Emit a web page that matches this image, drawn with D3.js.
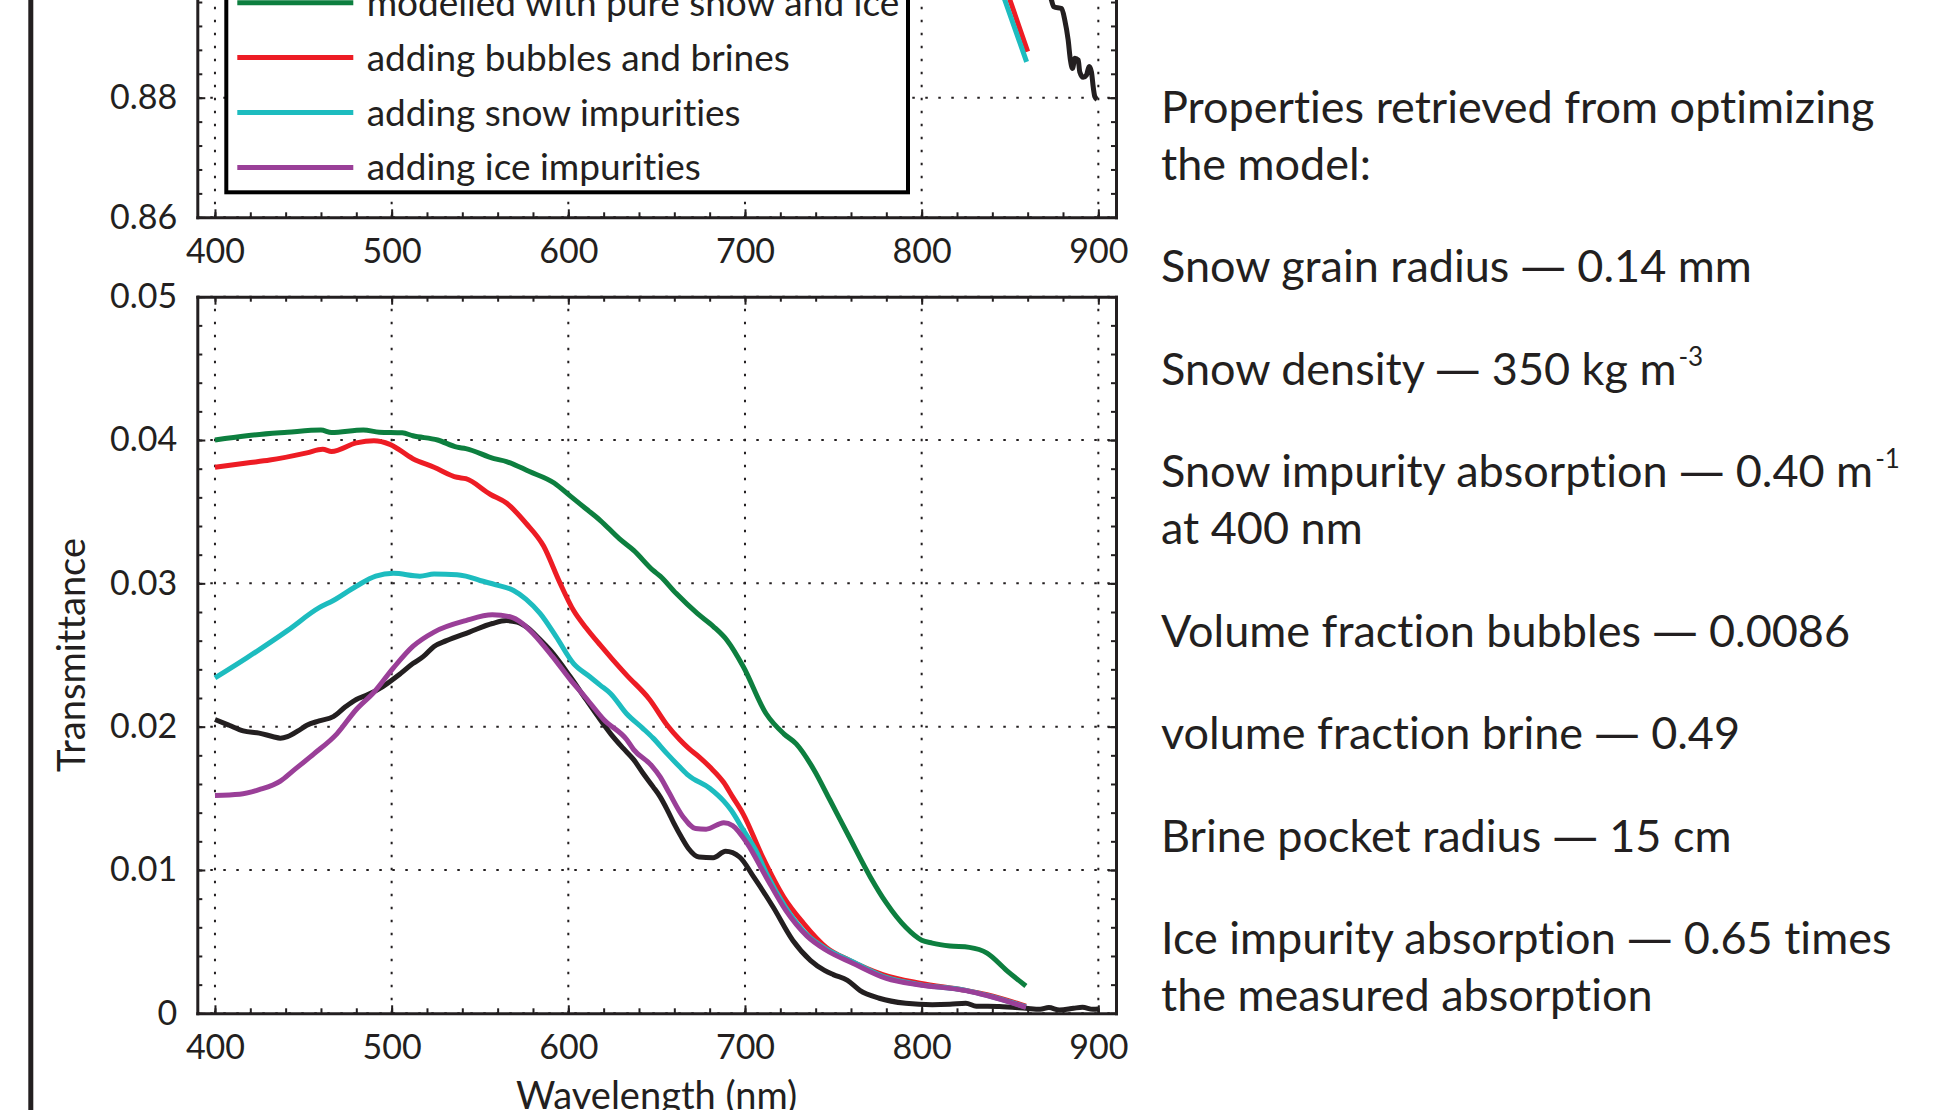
<!DOCTYPE html>
<html>
<head>
<meta charset="utf-8">
<script src="https://cdn.jsdelivr.net/npm/d3@7"></script>
<style>
  html, body { margin: 0; padding: 0; background: #fff; overflow: hidden; }
  svg { display: block; font-variant-ligatures: none; }
  .grid { stroke: #231f20; stroke-width: 2; stroke-dasharray: 2.5 10.5; fill: none; }
  .axis path { stroke: #231f20; stroke-width: 3; stroke-linecap: square; }
  .axis line { stroke: #231f20; stroke-width: 2; }
  .axis text { fill: #231f20; }
</style>
</head>
<body>
<svg id="chart" width="1955" height="1110"></svg>
<script>
const FONT = "Lato, 'Open Sans', sans-serif"

// tick values
const xTicks = [400, 500, 600, 700, 800, 900]
const xMinor = d3.range(400, 901, 20)
const yTicksBottom = [0, 0.01, 0.02, 0.03, 0.04, 0.05]
const yMinorBottom = d3.range(0, 26).map(i => i * 0.002)
const yTicksTop = [0.86, 0.88, 0.90, 0.92]
const yMinorTop = d3.range(0, 16).map(i => 0.86 + i * 0.004)

// lower panel: transmittance, [wavelength nm, value]
const measured = [[400,0.0205],[408,0.0201],[416,0.0197],[425,0.01955],[433,0.0193],[437,0.0192],[441,0.0193],[447,0.0197],[452,0.0201],[459,0.0204],[467,0.0207],[474,0.0214],[480,0.0219],[486,0.0222],[495,0.0228],[505,0.0237],[512,0.0244],[518,0.0249],[524,0.0256],[531,0.026],[544,0.0266],[557,0.0272],[565,0.0274],[571,0.0273],[577,0.0269],[583,0.0262],[590,0.0253],[601,0.0235],[610,0.0219],[618,0.0205],[624,0.0195],[631,0.0185],[637,0.0177],[642,0.0168],[648,0.0158],[652,0.0151],[656,0.0142],[660,0.0132],[664,0.0123],[668,0.0115],[674,0.0109],[682,0.01085],[689,0.0113],[697,0.0109],[705,0.0095],[716,0.0074],[727,0.0051],[737,0.0037],[745,0.003],[750,0.0027],[758,0.0023],[765,0.0016],[776,0.00105],[791,0.0007],[806,0.0006],[816,0.00063],[825,0.0007],[831,0.0005],[844,0.00047],[859,0.00035],[867,0.00028],[872,0.0004],[878,0.00023],[886,0.00035],[891,0.00042],[897,0.00028],[900,0.0003]]
const pureSnowIce = [[400,0.04],[418,0.0403],[441,0.04054],[460,0.0407],[466,0.04052],[484,0.0407],[493,0.04055],[506,0.0405],[512,0.0403],[526,0.04],[537,0.0395],[542,0.0394],[558,0.0387],[565,0.0385],[578,0.0378],[592,0.037],[601,0.0361],[610,0.0352],[618,0.0344],[629,0.0331],[637,0.0323],[648,0.0309],[652,0.0305],[661,0.0293],[673,0.0279],[682,0.027],[690,0.026],[699,0.0242],[712,0.0209],[722,0.0195],[729,0.0188],[739,0.017],[748,0.0149],[759,0.0123],[771,0.0095],[780,0.0077],[791,0.006],[800,0.0051],[806,0.0049],[816,0.0047],[827,0.0046],[837,0.0042],[848,0.003],[859,0.0019]]
const bubblesBrines = [[400,0.0381],[418,0.0384],[431,0.0386],[452,0.0391],[461,0.03935],[466,0.0392],[480,0.0398],[490,0.03995],[499,0.0397],[512,0.0387],[524,0.0381],[537,0.0374],[542,0.0373],[556,0.0362],[565,0.0356],[576,0.0342],[586,0.0326],[595,0.0301],[603,0.0281],[610,0.0269],[618,0.0257],[625,0.0247],[633,0.0236],[646,0.0219],[656,0.0201],[663,0.0191],[668,0.0185],[674,0.0179],[680,0.0172],[688,0.0161],[693,0.0151],[699,0.0139],[710,0.0109],[722,0.0081],[733,0.0063],[746,0.0046],[759,0.0037],[778,0.0027],[799,0.0021],[825,0.0016],[837,0.0013],[859,0.0005]]
const snowImpurities = [[400,0.0234],[418,0.0248],[441,0.0267],[459,0.0283],[467,0.0288],[480,0.0298],[491,0.0305],[501,0.0307],[516,0.0305],[524,0.03065],[537,0.0306],[542,0.0305],[550,0.0302],[559,0.0299],[569,0.0295],[576,0.0289],[584,0.0279],[593,0.0263],[603,0.0244],[612,0.0235],[618,0.0229],[624,0.0223],[633,0.0209],[642,0.0199],[648,0.0192],[656,0.0181],[663,0.0172],[668,0.0166],[680,0.0157],[688,0.0148],[692,0.0142],[699,0.0128],[706,0.0114],[712,0.0098],[723,0.0074],[735,0.0055],[746,0.0045],[761,0.0036],[780,0.0025],[799,0.002],[825,0.0016],[837,0.00125],[859,0.00045]]
const iceImpurities = [[400,0.0152],[414,0.01528],[425,0.0156],[437,0.0162],[444,0.0169],[456,0.0181],[469,0.0195],[480,0.0212],[490,0.0224],[501,0.0241],[512,0.0256],[524,0.0266],[542,0.0274],[557,0.0278],[567,0.02767],[574,0.0272],[580,0.0265],[591,0.0249],[601,0.0233],[610,0.022],[620,0.0205],[633,0.0191],[637,0.0184],[647,0.0173],[652,0.0165],[657,0.0154],[665,0.0137],[672,0.0129],[678,0.01285],[688,0.0133],[693,0.0131],[701,0.0119],[712,0.0095],[723,0.0072],[735,0.0054],[746,0.0044],[761,0.0035],[780,0.00244],[799,0.00198],[825,0.00158],[837,0.00123],[859,0.00042]]

// upper panel (only the lower end is in view)
const topMeasured = [[868,0.905],[873.5,0.8963],[874.8,0.8952],[879.2,0.8949],[881,0.893],[882.9,0.8897],[884.2,0.8863],[885.4,0.8849],[886.7,0.8866],[888.6,0.8863],[889.5,0.8843],[891.4,0.8834],[893.3,0.8838],[894.8,0.8852],[896.1,0.8843],[897.1,0.8818],[898,0.8802],[899.3,0.8797]]
const topBubblesBrines = [[840,0.9049],[850,0.8963],[860,0.8877]]
const topSnowImpurities = [[840,0.9023],[847.1,0.8963],[859.4,0.886]]

const legendLabels = ["modelled with pure snow and ice", "adding bubbles and brines", "adding snow impurities", "adding ice impurities"]
const colors = { black: "#231f20", green: "#0d7f3f", red: "#ed1c24", cyan: "#1dbcbf", purple: "#9a3f98" }
const legendColors = [colors.green, colors.red, colors.cyan, colors.purple]

// text block on the right: paragraphs of lines, [text, superscript]
const notes = [
  [["Properties retrieved from optimizing"], ["the model:"]],
  [["Snow grain radius \u2014 0.14 mm"]],
  [["Snow density \u2014 350 kg m", "-3"]],
  [["Snow impurity absorption \u2014 0.40 m", "-1"], ["at 400 nm"]],
  [["Volume fraction bubbles \u2014 0.0086"]],
  [["volume fraction brine \u2014 0.49"]],
  [["Brine pocket radius \u2014 15 cm"]],
  [["Ice impurity absorption \u2014 0.65 times"], ["the measured absorption"]]
]

const svg = d3.select("#chart").style("font-family", FONT)

const x = d3.scaleLinear().domain([390, 910]).range([197.3, 1116])
const yBottom = d3.scaleLinear().domain([0, 0.05]).range([1013.3, 296.7])
const yTop = d3.scaleLinear().domain([0.86, 0.92]).range([217.3, -141.5])

const line = (y) => d3.line()
  .x(d => x(d[0]))
  .y(d => y(d[1]))
  .curve(d3.curveMonotoneX)

// frame line at the far left of the figure
svg.append("line")
  .attr("x1", 30.8).attr("x2", 30.8).attr("y1", 0).attr("y2", 1110)
  .attr("stroke", colors.black).attr("stroke-width", 5)

const drawGrid = (g, y, yTicks) => {
  const [y0, y1] = y.range()
  g.append("g").selectAll("line").data(xTicks).join("line")
    .attr("class", "grid")
    .attr("x1", d => x(d)).attr("x2", d => x(d))
    .attr("y1", y0).attr("y2", y1)
  g.append("g").selectAll("line").data(yTicks).join("line")
    .attr("class", "grid")
    .attr("x1", x.range()[0]).attr("x2", x.range()[1])
    .attr("y1", d => y(d)).attr("y2", d => y(d))
}

const drawAxes = (g, y, yTicks, yMinor, yFormat) => {
  const [y0, y1] = y.range()
  const [x0, x1] = x.range()
  const ax = g.append("g").attr("class", "axis")
  const style = (sel) => sel.attr("font-family", FONT).attr("font-size", 34)

  // labelled bottom and left
  ax.append("g").attr("transform", `translate(0,${y0})`)
    .call(d3.axisBottom(x).tickValues(xTicks).tickSizeInner(-8).tickSizeOuter(0).tickPadding(22).tickFormat(d3.format("d")))
    .call(style)
  ax.append("g").attr("transform", `translate(0,${y0})`)
    .call(d3.axisBottom(x).tickValues(xMinor).tickSize(-5).tickFormat(""))
    .call(s => s.select(".domain").remove())
  ax.append("g").attr("transform", `translate(${x0},0)`)
    .call(d3.axisLeft(y).tickValues(yTicks).tickSizeInner(-8).tickSizeOuter(0).tickPadding(20).tickFormat(yFormat))
    .call(style)
  ax.append("g").attr("transform", `translate(${x0},0)`)
    .call(d3.axisLeft(y).tickValues(yMinor).tickSize(-5).tickFormat(""))
    .call(s => s.select(".domain").remove())

  // unlabelled top and right
  ax.append("g").attr("transform", `translate(0,${y1})`)
    .call(d3.axisTop(x).tickValues(xTicks).tickSizeInner(-8).tickSizeOuter(0).tickFormat(""))
  ax.append("g").attr("transform", `translate(0,${y1})`)
    .call(d3.axisTop(x).tickValues(xMinor).tickSize(-5).tickFormat(""))
    .call(s => s.select(".domain").remove())
  ax.append("g").attr("transform", `translate(${x1},0)`)
    .call(d3.axisRight(y).tickValues(yTicks).tickSizeInner(-8).tickSizeOuter(0).tickFormat(""))
  ax.append("g").attr("transform", `translate(${x1},0)`)
    .call(d3.axisRight(y).tickValues(yMinor).tickSize(-5).tickFormat(""))
    .call(s => s.select(".domain").remove())
}

const drawSeries = (g, y, series) => {
  g.append("g").selectAll("path").data(series).join("path")
    .attr("d", d => line(y)(d.values))
    .attr("fill", "none")
    .attr("stroke", d => d.color)
    .attr("stroke-width", 5)
    .attr("stroke-linejoin", "round")
}

// ---- upper panel ----
const topG = svg.append("g")
drawGrid(topG, yTop, yTicksTop)

// legend box sits inside the upper panel
const legend = topG.append("g")
legend.append("rect")
  .attr("x", 226.3).attr("y", -260).attr("width", 681.7).attr("height", 452.3)
  .attr("fill", "#fff").attr("stroke", "#000").attr("stroke-width", 4)
const rows = legend.selectAll("g.row").data(legendLabels).join("g")
  .attr("class", "row")
  .attr("transform", (d, i) => `translate(0,${2.7 + i * 54.9})`)
rows.append("line")
  .attr("x1", 237.3).attr("x2", 353.3)
  .attr("stroke", (d, i) => legendColors[i]).attr("stroke-width", 5)
rows.append("text")
  .attr("x", 366.7).attr("y", 13)
  .attr("font-size", 37).attr("fill", colors.black)
  .text(d => d)

drawSeries(topG, yTop, [
  { values: topBubblesBrines, color: colors.red },
  { values: topSnowImpurities, color: colors.cyan },
  { values: topMeasured, color: colors.black }
])
drawAxes(topG, yTop, yTicksTop, yMinorTop, d3.format(".2f"))

// ---- lower panel ----
const botG = svg.append("g")
drawGrid(botG, yBottom, yTicksBottom)
drawSeries(botG, yBottom, [
  { values: measured, color: colors.black },
  { values: pureSnowIce, color: colors.green },
  { values: bubblesBrines, color: colors.red },
  { values: snowImpurities, color: colors.cyan },
  { values: iceImpurities, color: colors.purple }
])
drawAxes(botG, yBottom, yTicksBottom, yMinorBottom, d => d === 0 ? "0" : d3.format(".2f")(d))

botG.append("text")
  .attr("x", (x.range()[0] + x.range()[1]) / 2).attr("y", 1109)
  .attr("text-anchor", "middle").attr("font-size", 38).attr("fill", colors.black)
  .text("Wavelength (nm)")
botG.append("text")
  .attr("transform", `translate(85,${(yBottom.range()[0] + yBottom.range()[1]) / 2}) rotate(-90)`)
  .attr("text-anchor", "middle").attr("font-size", 38).attr("fill", colors.black)
  .text("Transmittance")

// ---- notes on the right ----
const notesG = svg.append("g").attr("font-size", 45).attr("fill", colors.black)
let baseY = 122.7
notes.forEach((para, p) => {
  if (p > 0) baseY += 102.5
  para.forEach((ln, i) => {
    if (i > 0) baseY += 57
    const t = notesG.append("text").attr("x", 1161).attr("y", baseY)
    // long dash taken from Open Sans, Lato's is short
    ln[0].split("\u2014").forEach((part, k) => {
      if (k > 0) t.append("tspan").attr("font-family", "'Open Sans', sans-serif").text("\u2014")
      t.append("tspan").text(part)
    })
    if (ln[1]) {
      t.append("tspan")
        .attr("font-size", 26).attr("dy", -19).attr("dx", 2)
        .text(ln[1])
    }
  })
})
</script>
</body>
</html>
